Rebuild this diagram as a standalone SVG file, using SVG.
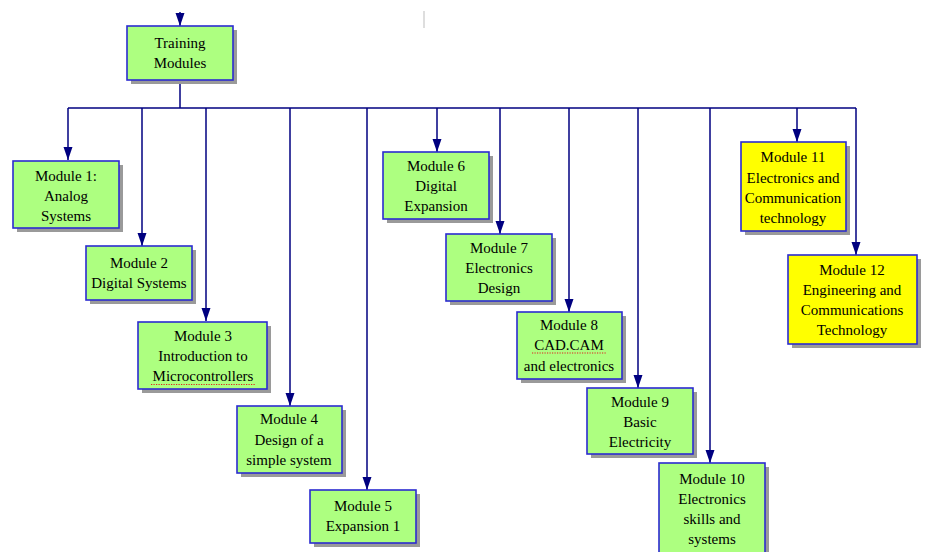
<svg xmlns="http://www.w3.org/2000/svg" width="925" height="552" viewBox="0 0 925 552">
  <defs>
    <!-- filled navy arrowhead, tip at the end of the path -->
    <marker id="arrow" viewBox="0 0 13 10" refX="13" refY="5" markerWidth="13" markerHeight="10" markerUnits="userSpaceOnUse" orient="auto">
      <path d="M0,0.5 L13,5 L0,9.5 Z" fill="#000080"/>
    </marker>
  </defs>
  <style>
    .shadow { fill: #9a9a9a; }
    .box { fill: #adff80; stroke: #2b2bd0; stroke-width: 1.6; }
    .box.alt { fill: #ffff00; }
    text { font-size: 15px; fill: #000; text-anchor: middle; }
    .wire { fill: none; stroke: #000080; stroke-width: 1.5; }
    .squiggle { fill: none; stroke: #e02020; stroke-width: 1.2; stroke-dasharray: 1.2 1.3; }
  </style>

  <rect width="925" height="552" fill="#ffffff"/>

  <!-- stray caret mark -->
  <line x1="424" y1="11" x2="424" y2="28" stroke="#c8c8c8" stroke-width="1.2"/>

  <!-- connectors -->
  <g id="connectors">
    <path class="wire" d="M180,12 L180,26" marker-end="url(#arrow)"/>
    <path class="wire" d="M180,80 L180,108"/>
    <path class="wire" d="M68,108 L856,108"/>
    <path class="wire" d="M68,108 L68,160" marker-end="url(#arrow)"/>
    <path class="wire" d="M142,108 L142,246" marker-end="url(#arrow)"/>
    <path class="wire" d="M206,108 L206,321" marker-end="url(#arrow)"/>
    <path class="wire" d="M290,108 L290,406" marker-end="url(#arrow)"/>
    <path class="wire" d="M367,108 L367,490" marker-end="url(#arrow)"/>
    <path class="wire" d="M437,108 L437,152" marker-end="url(#arrow)"/>
    <path class="wire" d="M500,108 L500,234" marker-end="url(#arrow)"/>
    <path class="wire" d="M569,108 L569,312" marker-end="url(#arrow)"/>
    <path class="wire" d="M638,108 L638,388" marker-end="url(#arrow)"/>
    <path class="wire" d="M710,108 L710,463" marker-end="url(#arrow)"/>
    <path class="wire" d="M797,108 L797,142" marker-end="url(#arrow)"/>
    <path class="wire" d="M856,108 L856,255" marker-end="url(#arrow)"/>
  </g>

  <g id="nodes" font-family="Liberation Serif, Times New Roman, DejaVu Serif, serif">
  <g id="training">
    <rect class="shadow" x="131" y="30" width="106" height="54"/>
    <rect class="box" x="127" y="26" width="106" height="54"/>
    <text x="180" y="48">Training</text>
    <text x="180" y="68">Modules</text>
  </g>

  <g id="m1">
    <rect class="shadow" x="17" y="165" width="106" height="67"/>
    <rect class="box" x="13" y="161" width="106" height="67"/>
    <text x="66" y="181">Module 1:</text>
    <text x="66" y="201">Analog</text>
    <text x="66" y="221">Systems</text>
  </g>

  <g id="m2">
    <rect class="shadow" x="90" y="250" width="106" height="54"/>
    <rect class="box" x="86" y="246" width="106" height="54"/>
    <text x="139" y="268">Module 2</text>
    <text x="139" y="288">Digital Systems</text>
  </g>

  <g id="m3">
    <rect class="shadow" x="142" y="326" width="129" height="67"/>
    <rect class="box" x="138" y="322" width="129" height="67"/>
    <text x="203" y="341">Module 3</text>
    <text x="203" y="361">Introduction to</text>
    <text x="203" y="381">Microcontrollers</text>
    <line class="squiggle" x1="151" y1="384.5" x2="255" y2="384.5"/>
  </g>

  <g id="m4">
    <rect class="shadow" x="241" y="410" width="105" height="67"/>
    <rect class="box" x="237" y="406" width="105" height="67"/>
    <text x="289" y="424">Module 4</text>
    <text x="289" y="445">Design of a</text>
    <text x="289" y="465">simple system</text>
  </g>

  <g id="m5">
    <rect class="shadow" x="314" y="494" width="106" height="53"/>
    <rect class="box" x="310" y="490" width="106" height="53"/>
    <text x="363" y="511">Module 5</text>
    <text x="363" y="531">Expansion 1</text>
  </g>

  <g id="m6">
    <rect class="shadow" x="387" y="156" width="106" height="67"/>
    <rect class="box" x="383" y="152" width="106" height="67"/>
    <text x="436" y="171">Module 6</text>
    <text x="436" y="191">Digital</text>
    <text x="436" y="211">Expansion</text>
  </g>

  <g id="m7">
    <rect class="shadow" x="450" y="238" width="106" height="67"/>
    <rect class="box" x="446" y="234" width="106" height="67"/>
    <text x="499" y="253">Module 7</text>
    <text x="499" y="273">Electronics</text>
    <text x="499" y="293">Design</text>
  </g>

  <g id="m8">
    <rect class="shadow" x="521" y="316" width="105" height="67"/>
    <rect class="box" x="517" y="312" width="105" height="67"/>
    <text x="569" y="330">Module 8</text>
    <text x="569" y="350">CAD.CAM</text>
    <text x="569" y="371">and electronics</text>
    <line class="squiggle" x1="532" y1="353" x2="607" y2="353"/>
  </g>

  <g id="m9">
    <rect class="shadow" x="591" y="392" width="106" height="66"/>
    <rect class="box" x="587" y="388" width="106" height="66"/>
    <text x="640" y="407">Module 9</text>
    <text x="640" y="427">Basic</text>
    <text x="640" y="447">Electricity</text>
  </g>

  <g id="m10">
    <rect class="shadow" x="663" y="467" width="106" height="100"/>
    <rect class="box" x="659" y="463" width="106" height="100"/>
    <text x="712" y="484">Module 10</text>
    <text x="712" y="504">Electronics</text>
    <text x="712" y="524">skills and</text>
    <text x="712" y="544">systems</text>
  </g>

  <g id="m11">
    <rect class="shadow" x="745" y="146" width="105" height="89"/>
    <rect class="box alt" x="741" y="142" width="105" height="89"/>
    <text x="793" y="162">Module 11</text>
    <text x="793" y="183">Electronics and</text>
    <text x="793" y="203">Communication</text>
    <text x="793" y="223">technology</text>
  </g>

  <g id="m12">
    <rect class="shadow" x="792" y="259" width="129" height="89"/>
    <rect class="box alt" x="788" y="255" width="129" height="89"/>
    <text x="852" y="275">Module 12</text>
    <text x="852" y="295">Engineering and</text>
    <text x="852" y="315">Communications</text>
    <text x="852" y="335">Technology</text>
  </g>
  </g>
</svg>
